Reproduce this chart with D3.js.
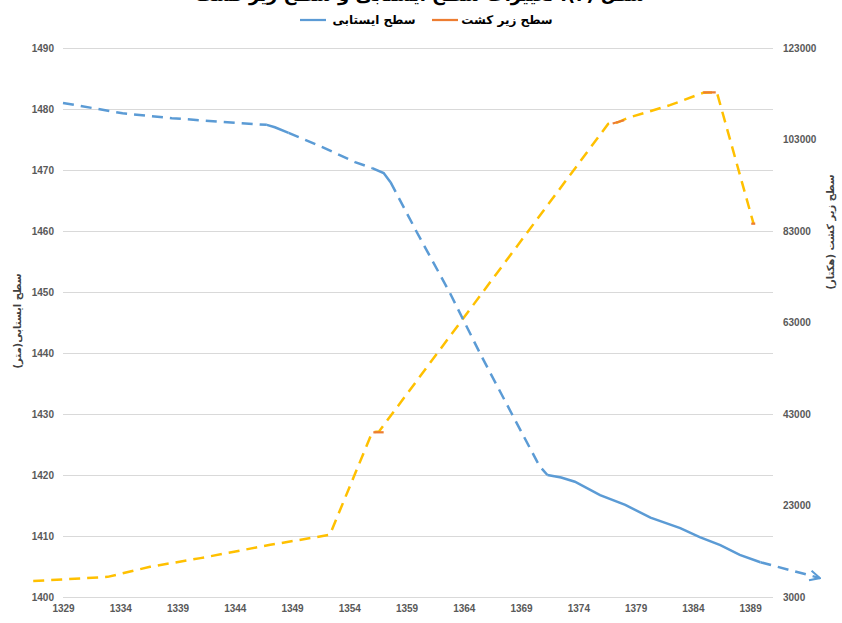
<!DOCTYPE html>
<html>
<head>
<meta charset="utf-8">
<style>
  body { margin: 0; background-color: white; }
  .axis text { font: bold 10px "Liberation Sans", Arial, sans-serif; fill: #595959; }
  .axis path, .axis line { display: none; }
  .grid line { stroke: #d9d9d9; stroke-width: 1; shape-rendering: crispEdges; }
  .fa { font-family: "DejaVu Sans", sans-serif; font-weight: bold; }
</style>
</head>
<body>
<svg id="chart" width="842" height="623"></svg>
<script src="https://cdn.jsdelivr.net/npm/d3@7"></script>
<script>

// axis ticks
var yearTicks = [1329, 1334, 1339, 1344, 1349, 1354, 1359, 1364, 1369, 1374, 1379, 1384, 1389];
var levelTicks = [1400, 1410, 1420, 1430, 1440, 1450, 1460, 1470, 1480, 1490];
var areaTicks = [3000, 23000, 43000, 63000, 83000, 103000, 123000];

// water table level (m) - solid flag = segment ending at this point is observed (solid)
var levelYears  = [1329, 1334.2, 1338.5, 1344.3, 1346.8, 1347.5, 1348.7, 1351.6, 1354.5, 1356, 1357.0, 1357.6, 1359.9, 1362.8, 1365.4, 1368.2, 1370.6, 1371.3, 1372.5, 1373.7, 1375.9, 1378.1, 1380.3, 1382.9, 1384.6, 1386.4, 1388.1, 1389.9];
var levelValues = [1481.0, 1479.3, 1478.5, 1477.7, 1477.4, 1477.0, 1476.1, 1473.8, 1471.3, 1470.3, 1469.5, 1468.0, 1459.8, 1449.8, 1440.0, 1430.0, 1421.5, 1420.0, 1419.6, 1418.9, 1416.7, 1415.1, 1413.0, 1411.3, 1409.8, 1408.5, 1406.9, 1405.7];
var levelSolid  = [0, 0, 0, 0, 0, 1, 1, 0, 0, 0, 1, 1, 0, 0, 0, 0, 0, 0, 1, 1, 1, 1, 1, 1, 1, 1, 1, 1];

// level trend arrow
var arrowYears = [1389.9, 1395.1];
var arrowValues = [1405.7, 1403.1];

// cultivated area (ha), observed pieces
var areaYears  = [1356.1, 1357.0, 1377.0, 1378.0, 1384.9, 1386.0, 1389.1, 1389.45];
var areaValues = [39000, 39000, 106500, 107200, 113300, 113300, 84600, 84600];
var areaRun    = [0, 0, 1, 1, 2, 2, 3, 3];

// cultivated area trend (yellow dashed)
var trendYears  = [1326.4, 1332.9, 1336.6, 1341.0, 1347.1, 1352.3, 1356.0, 1356.6, 1376.6, 1377.4, 1378.3, 1382.0, 1384.9, 1386.1, 1389.3];
var trendValues = [6500, 7400, 9600, 11500, 14400, 16600, 39000, 39200, 106400, 106700, 107700, 110500, 113200, 113300, 84600];

var svg = d3.select("#chart");

var x = d3.scaleLinear().domain([1329, 1391]).range([63, 773]);
var yLeft = d3.scaleLinear().domain([1400, 1490]).range([597, 48]);
var yRight = d3.scaleLinear().domain([3000, 123000]).range([597, 48]);

// gridlines
svg.append("g").attr("class", "grid")
  .selectAll("line").data(levelTicks).enter().append("line")
  .attr("x1", x.range()[0]).attr("x2", x.range()[1])
  .attr("y1", function(d) { return yLeft(d); })
  .attr("y2", function(d) { return yLeft(d); });

// axes
svg.append("g").attr("class", "axis")
  .attr("transform", "translate(63,0)")
  .call(d3.axisLeft(yLeft).tickValues(levelTicks).tickFormat(d3.format("d")).tickSize(0).tickPadding(9));

svg.append("g").attr("class", "axis")
  .attr("transform", "translate(773,0)")
  .call(d3.axisRight(yRight).tickValues(areaTicks).tickFormat(d3.format("d")).tickSize(0).tickPadding(10));

svg.append("g").attr("class", "axis")
  .attr("transform", "translate(0,597)")
  .call(d3.axisBottom(x).tickValues(yearTicks).tickFormat(d3.format("d")).tickSize(0).tickPadding(8));

var lineL = d3.line().x(function(d) { return x(d[0]); }).y(function(d) { return yLeft(d[1]); });
var lineR = d3.line().x(function(d) { return x(d[0]); }).y(function(d) { return yRight(d[1]); });

// yellow trend
svg.append("path")
  .datum(trendYears.map(function(yr, i) { return [yr, trendValues[i]]; }))
  .attr("d", lineR)
  .attr("fill", "none")
  .attr("stroke", "#ffc000")
  .attr("stroke-width", 2.5)
  .style("stroke-dasharray", "11,7");

// orange observed pieces
d3.groups(areaYears.map(function(yr, i) { return [yr, areaValues[i], areaRun[i]]; }), function(d) { return d[2]; })
  .forEach(function(g) {
    svg.append("path")
      .datum(g[1])
      .attr("d", lineR)
      .attr("fill", "none")
      .attr("stroke", "#ed7d31")
      .attr("stroke-width", 2.25);
  });

// blue level: split into runs by style
var runs = [];
for (var i = 1; i < levelYears.length; i++) {
  var seg = [[levelYears[i - 1], levelValues[i - 1]], [levelYears[i], levelValues[i]]];
  var last = runs[runs.length - 1];
  if (last && last.solid === levelSolid[i]) {
    last.pts.push(seg[1]);
  } else {
    runs.push({solid: levelSolid[i], pts: seg});
  }
}
runs.forEach(function(r) {
  svg.append("path")
    .datum(r.pts)
    .attr("d", lineL)
    .attr("fill", "none")
    .attr("stroke", "#5b9bd5")
    .attr("stroke-width", 2.5)
    .style("stroke-dasharray", r.solid === 1 ? "none" : "11,7");
});

// arrow
svg.append("defs").append("marker")
  .attr("id", "arrow")
  .attr("viewBox", "0 0 10 10")
  .attr("refX", 9).attr("refY", 5)
  .attr("markerWidth", 5).attr("markerHeight", 5)
  .attr("orient", "auto")
  .append("path")
  .attr("d", "M1,1 L9,5 L1,9")
  .attr("fill", "none")
  .attr("stroke", "#5b9bd5")
  .attr("stroke-width", 1.6);

svg.append("path")
  .datum(arrowYears.map(function(yr, i) { return [yr, arrowValues[i]]; }))
  .attr("d", lineL)
  .attr("fill", "none")
  .attr("stroke", "#5b9bd5")
  .attr("stroke-width", 2.5)
  .style("stroke-dasharray", "11,7")
  .attr("marker-end", "url(#arrow)");

// title (cut off at top)
svg.append("text")
  .attr("class", "fa")
  .attr("x", 420).attr("y", 1)
  .attr("text-anchor", "middle")
  .style("font-size", "18px")
  .attr("fill", "#000")
  .text("شکل (۲): تغییرات سطح ایستابی و سطح زیر کشت");

// legend
var legend = [
  {label: "سطح ایستابی", color: "#5b9bd5", x1: 300, x2: 326, tx: 374},
  {label: "سطح زیر کشت", color: "#ed7d31", x1: 432, x2: 458, tx: 507}
];
legend.forEach(function(l) {
  svg.append("line")
    .attr("x1", l.x1).attr("x2", l.x2)
    .attr("y1", 20).attr("y2", 20)
    .attr("stroke", l.color)
    .attr("stroke-width", 2.25);
  svg.append("text")
    .attr("class", "fa")
    .attr("x", l.tx).attr("y", 24)
    .attr("text-anchor", "middle")
    .style("font-size", "12px")
    .attr("fill", "#000")
    .text(l.label);
});

// axis titles
svg.append("text")
  .attr("class", "fa")
  .attr("transform", "translate(21,321) rotate(-90)")
  .attr("text-anchor", "middle")
  .style("font-size", "10px")
  .attr("fill", "#404040")
  .text("سطح ایستابی(متر)");

svg.append("text")
  .attr("class", "fa")
  .attr("transform", "translate(834,232) rotate(-90)")
  .attr("text-anchor", "middle")
  .style("font-size", "10px")
  .attr("fill", "#404040")
  .text("سطح زیر کشت (هکتار)");

</script>
</body>
</html>
